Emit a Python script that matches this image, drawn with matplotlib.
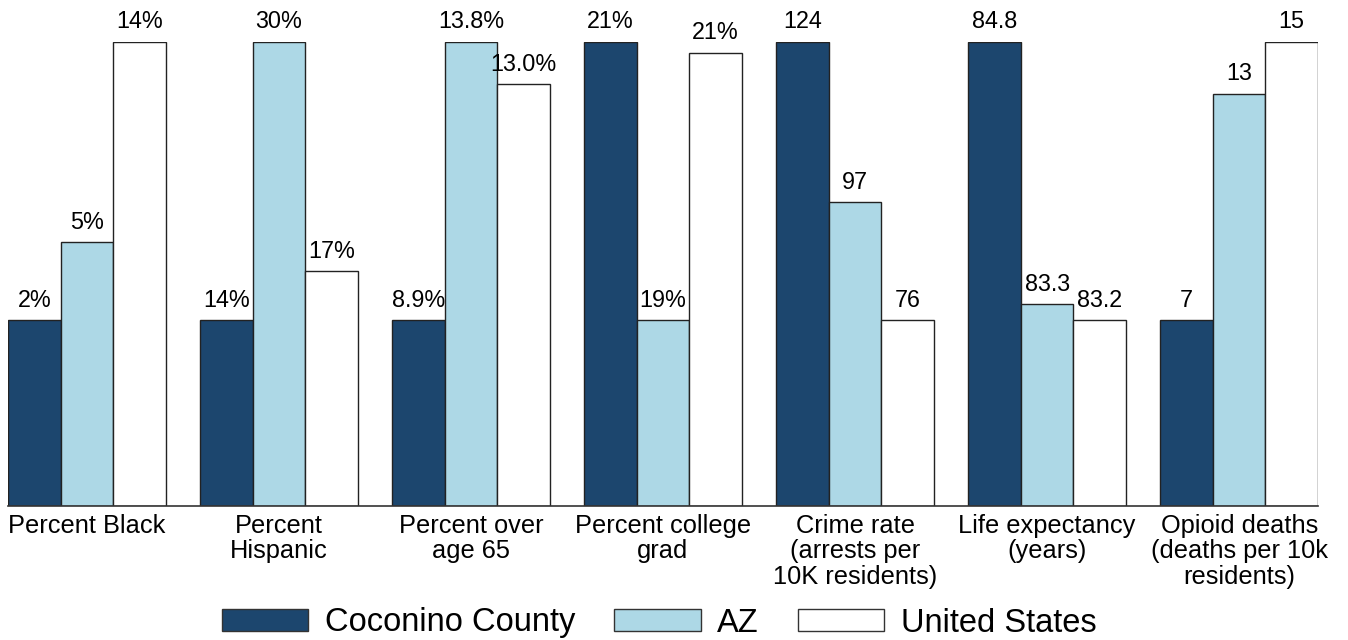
import matplotlib
matplotlib.use("Agg")
import matplotlib.pyplot as plt
import numpy as np
from matplotlib.patches import Patch

plt.rcParams['font.family'] = ['Liberation Sans', 'DejaVu Sans']

categories = ["Percent Black", "Percent\nHispanic", "Percent over\nage 65", "Percent college\ngrad",
              "Crime rate\n(arrests per\n10K residents)", "Life expectancy\n(years)",
              "Opioid deaths\n(deaths per 10k\nresidents)"]
series_names = ["Coconino County", "AZ", "United States"]
coconino = [2.0, 14.0, 8.9, 21.0, 124, 84.8, 7]
az = [5.34, 30.0, 13.8, 19.0, 96.3, 83.29, 13.5]
us = [14.0, 16.8, 13.05, 20.92, 76, 83.2, 15]
coconino_labels = ["2%", "14%", "8.9%", "21%", "124", "84.8", "7"]
az_labels = ["5%", "30%", "13.8%", "19%", "97", "83.3", "13"]
us_labels = ["14%", "17%", "13.0%", "21%", "76", "83.2", "15"]
colors = ["#1c466e", "#add8e6", "#ffffff"]

# each category is scaled on its own: lowest value -> 40% of the full bar height, highest -> 100%
data = np.array([coconino, az, us], dtype=float)
lo = data.min(axis=0)
hi = data.max(axis=0)
heights = 0.4 + 0.6 * (data - lo) / (hi - lo)
labels = [coconino_labels, az_labels, us_labels]

fig = plt.figure(figsize=(13.48, 6.4), dpi=100)
ax = fig.add_axes([8 / 1348, (640 - 505.5) / 640, 1310 / 1348, 464 / 640])

x = np.arange(len(categories))
w = 0.2734
for s in range(3):
    xs = x + (s - 1) * w
    ax.bar(xs, heights[s], width=w, color=colors[s], edgecolor="#222222", linewidth=1.0)
    for xi, hv, lab in zip(xs, heights[s], labels[s]):
        ax.annotate(lab, (xi, hv), xytext=(0, 6), textcoords="offset points",
                    ha="center", va="bottom", fontsize=16.8, annotation_clip=False)

ax.set_xlim(-1.5 * w, len(categories) - 1 + 1.5 * w)
ax.set_ylim(0, 1.0)
ax.set_xticks(x)
ax.set_xticklabels(categories, fontsize=18.3, linespacing=1.08)
ax.tick_params(axis="x", length=0, pad=6)
ax.set_yticks([])
for sp in ["top", "right", "left"]:
    ax.spines[sp].set_visible(False)
ax.spines["bottom"].set_color("#333333")
ax.spines["bottom"].set_linewidth(1.2)

handles = [Patch(facecolor=c, edgecolor="#333333", linewidth=1.0) for c in colors]
fig.legend(handles, series_names, loc="center", bbox_to_anchor=(659 / 1348, 1 - 623 / 640),
           ncol=3, frameon=False, prop={"size": 23.5},
           handlelength=2.65, handleheight=0.68, handletextpad=0.5, columnspacing=1.2,
           borderpad=0, borderaxespad=0)

fig.savefig("out.png", dpi=100)
